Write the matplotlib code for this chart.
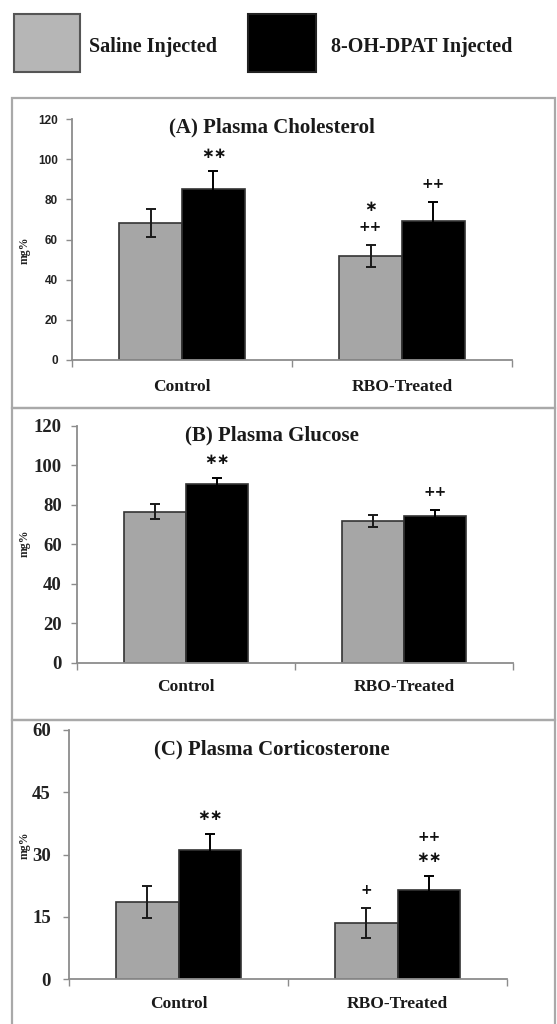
import matplotlib
matplotlib.use("Agg")
import matplotlib.pyplot as plt
from matplotlib.patches import Rectangle
import numpy as np

# ---------------- data ----------------
categories = ["Control", "RBO-Treated"]
series_names = ["Saline Injected", "8-OH-DPAT Injected"]

titles = ["(A) Plasma Cholesterol", "(B) Plasma Glucose", "(C) Plasma Corticosterone"]

chol_saline = [68, 52]
chol_saline_err = [7, 5.5]
chol_dpat = [85, 69]
chol_dpat_err = [9, 9.5]

gluc_saline = [76.5, 72]
gluc_saline_err = [3.8, 3]
gluc_dpat = [90.5, 74.5]
gluc_dpat_err = [3.2, 3]

cort_saline = [18.5, 13.5]
cort_saline_err = [3.8, 3.5]
cort_dpat = [31, 21.5]
cort_dpat_err = [4, 3.4]

yticks_A = [0, 20, 40, 60, 80, 100, 120]
yticks_B = [0, 20, 40, 60, 80, 100, 120]
yticks_C = [0, 15, 30, 45, 60]

# significance marks: (series index, category index, labels from bottom to top)
marks_A = [(1, 0, ["**"]), (0, 1, ["++", "*"]), (1, 1, ["++"])]
marks_B = [(1, 0, ["**"]), (1, 1, ["++"])]
marks_C = [(1, 0, ["**"]), (0, 1, ["+"]), (1, 1, ["**", "++"])]

ylabel = "mg%"

# ---------------- style ----------------
W, H = 557, 1024
DPI = 100
fig = plt.figure(figsize=(W / DPI, H / DPI), dpi=DPI)
fig.patch.set_facecolor("white")

SERIF = ["Liberation Serif", "DejaVu Serif"]
SANS = ["Liberation Sans", "DejaVu Sans"]
GRAY = "#a6a6a6"
AXC = "#8c8c8c"
BORDER = "#a9a9a9"
colors = [GRAY, "black"]
ecolors = ["#1a1a1a", "black"]


def fx(px):
    return px / W


def fy(py):
    return 1 - py / H


# panel frames
for top, bot in [(98, 408), (408, 720), (720, 1030)]:
    fig.add_artist(Rectangle((fx(12), fy(bot)), fx(555) - fx(12), fy(top) - fy(bot),
                             transform=fig.transFigure, fill=False,
                             edgecolor=BORDER, lw=1.6))

# legend
fig.add_artist(Rectangle((fx(14), fy(72)), fx(80) - fx(14), fy(14) - fy(72),
                         transform=fig.transFigure, facecolor="#b6b6b6",
                         edgecolor="#555555", lw=1.5))
fig.text(fx(89), fy(47), series_names[0], family=SERIF, weight="bold",
         fontsize=14.5, va="center", ha="left", color="#1a1a1a")
fig.add_artist(Rectangle((fx(248), fy(72)), fx(316) - fx(248), fy(14) - fy(72),
                         transform=fig.transFigure, facecolor="black",
                         edgecolor="#222222", lw=1.5))
fig.text(fx(331), fy(47), series_names[1], family=SERIF, weight="bold",
         fontsize=14.5, va="center", ha="left", color="#1a1a1a")

panels = [
    dict(box=(72, 512, 119, 360), vals=[chol_saline, chol_dpat],
         errs=[chol_saline_err, chol_dpat_err], yt=yticks_A, marks=marks_A,
         tickfont=dict(family=SANS, weight="bold", size=8.5), title_y=127,
         ylab=(25, 250), xlab_pad=14, tpad=6),
    dict(box=(77, 513, 426, 662.7), vals=[gluc_saline, gluc_dpat],
         errs=[gluc_saline_err, gluc_dpat_err], yt=yticks_B, marks=marks_B,
         tickfont=dict(family=SERIF, weight="bold", size=13.5), title_y=435,
         ylab=(25, 543), xlab_pad=12, tpad=7),
    dict(box=(69, 507, 730, 979), vals=[cort_saline, cort_dpat],
         errs=[cort_saline_err, cort_dpat_err], yt=yticks_C, marks=marks_C,
         tickfont=dict(family=SERIF, weight="bold", size=13.5), title_y=749,
         ylab=(25, 845), xlab_pad=12, tpad=9),
]

x = np.arange(len(categories))
bw = 0.286

for p, title in zip(panels, titles):
    l, r, t, b = p["box"]
    ax = fig.add_axes([fx(l), fy(b), fx(r) - fx(l), fy(t) - fy(b)])
    ax.set_xlim(-0.5, len(categories) - 0.5)
    ax.set_ylim(p["yt"][0], p["yt"][-1])
    offsets = [-bw / 2, bw / 2]
    for i in range(2):
        ax.bar(x + offsets[i], p["vals"][i], width=bw, color=colors[i],
               edgecolor="#333333", linewidth=1.2, zorder=2)
        ax.errorbar(x + offsets[i], p["vals"][i], yerr=p["errs"][i], fmt="none",
                    ecolor=ecolors[i], elinewidth=1.4, capsize=3.6, capthick=1.4,
                    zorder=3)
    # significance marks (asterisks drawn with the centred math asterisk)
    for si, ci, labels in p["marks"]:
        top_val = p["vals"][si][ci] + p["errs"][si][ci]
        for k, lab in enumerate(labels):
            off = 18 + 20.5 * k
            shown = lab.replace("*", "\u2217")
            ax.annotate(shown, (x[ci] + offsets[si], top_val), xytext=(0, off),
                        textcoords="offset pixels", ha="center", va="center",
                        fontsize=11 if "*" in lab else 10,
                        family=["DejaVu Sans"],
                        weight="bold", color="#111111")
    # axes style
    for s in ["top", "right"]:
        ax.spines[s].set_visible(False)
    for s in ["left", "bottom"]:
        ax.spines[s].set_color(AXC)
        ax.spines[s].set_linewidth(1.3)
    ax.set_yticks(p["yt"])
    ax.set_yticklabels([str(v) for v in p["yt"]], fontdict=p["tickfont"],
                       color="#222222")
    ax.tick_params(axis="y", direction="out", length=4, width=1, color=AXC,
                   pad=p["tpad"])
    ax.set_xticks(x)
    ax.set_xticklabels(categories, family=SERIF, weight="bold", fontsize=12.5,
                       color="#1a1a1a")
    ax.tick_params(axis="x", which="major", length=0, pad=p["xlab_pad"])
    ax.set_xticks(np.arange(-0.5, len(categories)), minor=True)
    ax.tick_params(axis="x", which="minor", direction="out", length=5, width=1,
                   color=AXC)
    ax.set_facecolor("none")
    fig.text(fx(272), fy(p["title_y"]), title, family=SERIF, weight="bold",
             fontsize=15, ha="center", va="center", color="#1a1a1a")
    fig.text(fx(p["ylab"][0]), fy(p["ylab"][1]), ylabel, rotation=90,
             family=SERIF, weight="bold", fontsize=8.5, ha="center",
             va="center", color="#222222")

fig.savefig("out.png", dpi=DPI)
